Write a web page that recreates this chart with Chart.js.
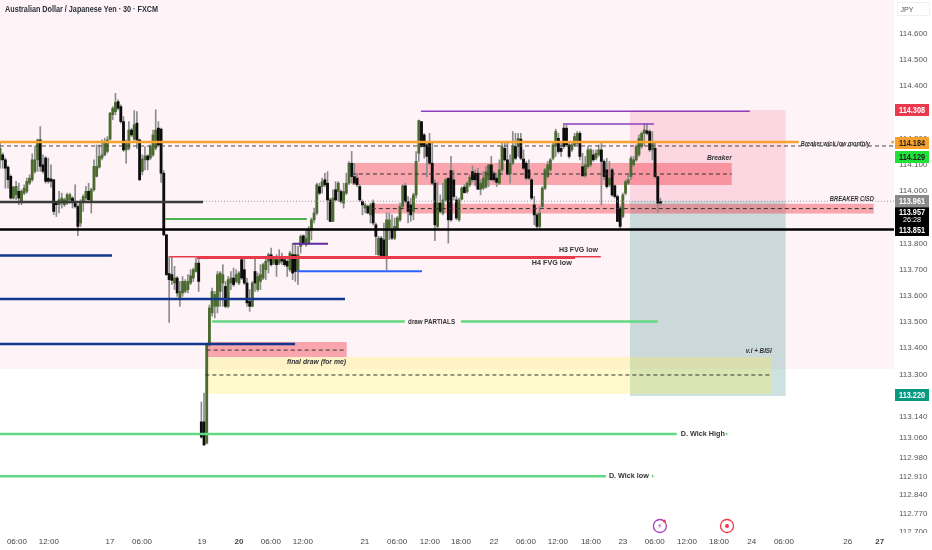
<!DOCTYPE html>
<html><head><meta charset="utf-8">
<style>html,body{margin:0;padding:0;background:#fff}canvas{display:block}</style>
<script src="https://cdn.jsdelivr.net/npm/chart.js@4"></script></head>
<body><canvas id="c" width="932" height="550"></canvas>
<script>
const highs=[114.178,114.141,114.122,114.092,114.058,114.014,114.033,114.026,114.001,114.020,
114.045,114.058,114.138,114.166,114.194,114.242,114.134,114.128,114.122,114.096,
114.039,113.956,113.995,113.988,113.969,113.988,113.988,113.975,114.020,113.944,
113.963,113.982,114.014,114.026,114.007,114.115,114.172,114.172,114.191,114.198,
114.204,114.296,114.318,114.369,114.344,114.325,114.280,114.191,114.261,114.236,
114.303,114.299,114.194,114.134,114.166,114.134,114.172,114.229,114.306,114.261,
114.236,114.074,113.829,113.747,113.747,113.709,113.670,113.651,113.670,113.658,
113.677,113.696,113.702,113.740,113.740,113.191,113.225,113.408,113.561,113.626,
113.613,113.689,113.689,113.715,113.651,113.670,113.689,113.702,113.696,113.689,
113.740,113.740,113.664,113.620,113.651,113.740,113.683,113.715,113.721,113.747,
113.759,113.778,113.747,113.753,113.772,113.759,113.740,113.734,113.766,113.797,
113.791,113.785,113.829,113.829,113.848,113.861,113.893,113.931,114.026,114.026,
114.045,114.064,114.070,113.969,114.001,114.032,114.032,114.001,114.026,114.064,
114.108,114.147,114.102,114.064,114.020,113.962,113.950,113.943,113.950,113.962,
113.874,113.823,113.823,113.874,113.912,113.912,113.905,113.893,113.899,113.950,
114.020,114.026,113.975,113.969,113.988,114.147,114.267,114.261,114.216,114.185,
114.216,114.178,114.039,114.029,113.981,114.026,114.045,114.045,114.128,114.074,
113.975,113.969,114.013,114.020,114.032,114.058,114.092,114.077,114.083,114.039,
114.070,114.089,114.096,114.128,114.070,114.064,114.115,114.178,114.178,114.178,
114.134,114.223,114.216,114.216,114.216,114.153,114.109,114.115,114.045,113.975,
113.912,113.937,114.013,114.083,114.109,114.121,114.178,114.232,114.216,114.178,
114.248,114.248,114.185,114.178,114.216,114.223,114.223,114.140,114.128,114.166,
114.159,114.153,114.153,114.172,114.178,114.115,114.121,114.109,114.083,114.020,
113.981,113.937,113.988,114.039,114.058,114.128,114.128,114.172,114.210,114.223,
114.254,114.254,114.229,114.223,114.178,114.051,113.969];
const lows=[114.083,114.083,114.007,114.007,113.965,113.965,113.963,113.944,113.944,113.982,
113.988,114.020,114.033,114.064,114.071,114.071,114.064,114.026,114.026,114.011,
113.906,113.899,113.912,113.931,113.937,113.944,113.950,113.931,113.931,113.826,
113.861,113.918,113.960,113.956,113.912,113.995,114.049,114.083,114.115,114.130,
114.141,114.191,114.268,114.287,114.306,114.255,114.147,114.102,114.153,114.204,
114.189,114.159,114.036,114.058,114.077,114.077,114.115,114.128,114.153,114.166,
114.029,113.825,113.673,113.495,113.639,113.620,113.594,113.556,113.594,113.607,
113.607,113.639,113.651,113.686,113.613,113.053,113.025,113.031,113.405,113.518,
113.512,113.531,113.556,113.556,113.550,113.550,113.620,113.632,113.645,113.639,
113.658,113.639,113.556,113.537,113.554,113.613,113.613,113.620,113.658,113.658,
113.683,113.709,113.715,113.670,113.715,113.715,113.709,113.670,113.689,113.658,
113.651,113.639,113.759,113.791,113.785,113.791,113.810,113.874,113.905,113.982,
113.988,114.013,113.886,113.879,113.879,113.960,113.956,113.950,113.931,113.982,
114.020,114.026,114.020,114.013,113.956,113.905,113.912,113.910,113.874,113.867,
113.753,113.747,113.744,113.740,113.696,113.810,113.810,113.810,113.848,113.880,
113.931,113.950,113.874,113.880,113.886,113.969,114.109,114.163,114.121,114.049,
114.096,114.020,113.807,113.854,113.912,113.905,113.956,113.797,113.880,113.962,
113.886,113.880,113.962,113.988,113.988,114.013,114.032,114.016,114.001,113.981,
114.001,114.007,114.013,114.037,114.032,114.013,114.020,114.070,114.109,114.058,
114.026,114.096,114.115,114.128,114.115,114.077,114.039,114.039,113.962,113.867,
113.854,113.854,113.931,114.001,114.045,114.070,114.115,114.128,114.140,114.128,
114.159,114.166,114.121,114.147,114.166,114.172,114.115,114.051,114.049,114.083,
114.089,114.109,114.115,114.128,113.943,114.039,114.007,114.013,113.975,113.969,
113.879,113.854,113.893,113.981,114.020,114.039,114.089,114.109,114.128,114.159,
114.172,114.210,114.147,114.115,114.045,113.914,113.943];
const opens=[114.115,114.134,114.115,114.087,114.052,113.969,113.982,113.995,113.956,113.988,
113.995,114.026,114.039,114.071,114.115,114.191,114.096,114.122,114.045,114.042,
114.039,113.950,113.944,113.950,113.944,113.950,113.963,113.969,113.956,113.937,
113.874,113.956,113.969,113.995,113.956,114.001,114.052,114.087,114.122,114.134,
114.147,114.194,114.287,114.299,114.337,114.318,114.261,114.153,114.159,114.229,
114.194,114.255,114.191,114.071,114.115,114.130,114.122,114.134,114.159,114.236,
114.232,114.064,113.829,113.681,113.677,113.645,113.664,113.581,113.607,113.613,
113.620,113.645,113.664,113.689,113.721,113.115,113.115,113.034,113.408,113.531,
113.556,113.556,113.613,113.645,113.632,113.556,113.645,113.664,113.651,113.645,
113.734,113.696,113.645,113.575,113.556,113.689,113.620,113.651,113.664,113.696,
113.728,113.753,113.721,113.734,113.721,113.747,113.734,113.728,113.696,113.753,
113.753,113.689,113.785,113.825,113.791,113.797,113.848,113.886,113.912,114.013,
114.013,114.039,114.026,113.962,113.880,114.001,113.994,113.994,113.950,113.988,
114.026,114.102,114.051,114.045,114.013,113.956,113.931,113.937,113.905,113.950,
113.867,113.753,113.816,113.810,113.740,113.854,113.848,113.816,113.854,113.886,
113.937,114.016,113.956,113.943,113.918,113.981,114.140,114.261,114.210,114.172,
114.178,114.102,114.026,113.861,113.950,113.912,113.962,114.045,114.074,114.039,
113.962,113.886,113.965,114.011,113.994,114.020,114.070,114.064,114.064,114.003,
114.007,114.011,114.039,114.096,114.064,114.045,114.026,114.077,114.159,114.115,
114.061,114.102,114.166,114.166,114.194,114.118,114.102,114.077,114.039,113.943,
113.905,113.861,113.937,114.007,114.051,114.077,114.121,114.172,114.197,114.159,
114.236,114.236,114.172,114.153,114.172,114.178,114.216,114.089,114.054,114.089,
114.096,114.134,114.121,114.134,114.153,114.109,114.077,114.020,114.077,114.016,
113.975,113.931,113.899,113.988,114.026,114.051,114.096,114.115,114.134,114.166,
114.216,114.226,114.223,114.153,114.159,114.051,113.956];
const closes=[114.159,114.115,114.083,114.039,113.969,114.011,114.014,113.969,113.995,114.007,
114.033,114.045,114.115,114.115,114.191,114.090,114.071,114.033,114.033,114.033,
113.918,113.944,113.963,113.969,113.963,113.982,113.982,113.956,113.937,113.861,
113.956,113.975,113.995,113.963,114.001,114.090,114.090,114.128,114.134,114.185,
114.191,114.293,114.312,114.334,114.312,114.261,114.153,114.185,114.229,114.210,
114.249,114.191,114.039,114.118,114.130,114.115,114.166,114.210,114.229,114.172,
114.064,113.829,113.677,113.658,113.655,113.664,113.607,113.613,113.651,113.651,
113.651,113.673,113.696,113.721,113.651,113.057,113.027,113.408,113.550,113.613,
113.601,113.677,113.683,113.677,113.556,113.658,113.664,113.639,113.677,113.683,
113.664,113.645,113.569,113.556,113.645,113.645,113.670,113.677,113.715,113.728,
113.753,113.715,113.740,113.715,113.747,113.728,113.715,113.709,113.759,113.683,
113.689,113.753,113.823,113.797,113.816,113.848,113.886,113.912,114.020,113.988,
114.032,114.020,113.962,113.880,113.969,113.962,114.026,113.956,113.994,114.026,
114.102,114.051,114.026,114.020,113.962,113.943,113.943,113.912,113.943,113.874,
113.823,113.816,113.747,113.747,113.886,113.886,113.816,113.861,113.893,113.937,
114.016,113.956,113.918,113.905,113.981,114.109,114.265,114.166,114.166,114.128,
114.102,114.026,113.867,113.950,113.918,113.962,114.039,113.886,113.886,113.975,
113.893,113.962,114.007,113.990,114.026,114.049,114.039,114.039,114.003,114.026,
114.045,114.070,114.096,114.039,114.039,114.029,114.077,114.166,114.115,114.061,
114.102,114.166,114.121,114.197,114.121,114.083,114.045,114.045,113.969,113.905,
113.861,113.912,114.007,114.077,114.096,114.115,114.172,114.223,114.147,114.147,
114.166,114.172,114.128,114.172,114.204,114.216,114.128,114.054,114.096,114.153,
114.153,114.115,114.140,114.153,114.109,114.051,114.013,114.045,113.981,113.975,
113.880,113.861,113.981,114.032,114.039,114.121,114.115,114.166,114.197,114.216,
114.229,114.216,114.153,114.178,114.051,113.950,113.950];

const timeTickIdx=[6.3,18.2,41,52.9,75.2,89,100.9,112.8,135.9,147.9,160.1,171.7,184,195.9,207.8,220.1,232,243.9,255.9,267.8,280,292,315.8,327.7];
const timeTickLabels=['06:00','12:00','17','06:00','19','20','06:00','12:00','21','06:00','12:00','18:00','22','06:00','12:00','18:00','23','06:00','12:00','18:00','24','06:00','26','27'];
const priceTicks=[114.6,114.5,114.4,114.3,114.2,114.1,114.0,113.9,113.8,113.7,113.6,113.5,113.4,113.3,113.14,113.06,112.98,112.91,112.84,112.77,112.70];

// horizontal levels: [x1,x2,price]
const orangeLevels=[[0,297.5,114.183],[332,333,114.183]];
const monthlyDash=[0,333,114.168];
const darkLevel=[0,75.6,113.954];
const dottedLevel=[75.6,333,113.957];
const blackLevel=[0,333,113.849];
const navyLevels=[[0,41.7,113.75],[0,128.5,113.584],[0,109.9,113.412]];
const midGreenLevel=[61.5,114.3,113.889];
const redThin=[63.3,223.8,113.745];
const redThick=[73.4,214.2,113.742];
const purpleShort=[109.1,122.2,113.795];
const blueLevel=[110.6,157.2,113.69];
const lightGreenLevels=[[79,150.8,113.498],[171.7,245,113.498],[0,252.1,113.069],[270.3,270.9,113.069],[0,225.7,112.908],[242.8,243.4,112.908]];
const violetLevels=[[156.8,279.3,114.3],[209.7,243.6,114.252]];
// zones: [x1,x2,top,bottom]
const sessionBand=[0,333,114.725,113.317];
const riskZone=[234.6,292.7,114.305,113.958];
const rewardZone=[234.6,292.7,113.958,113.214];
const breakerZone=[131.1,272.6,114.103,114.019];
const cisdZone=[138.5,325.5,113.947,113.910];
const finalZone=[77,129.2,113.42,113.363];
const yellowZone=[77,287.5,113.363,113.221];
const midDashes=[[131.1,272.6,114.061],[138.5,325.5,113.929],[77,129.2,113.389],[76.5,287.5,113.294]];
// labels
const noteTexts=['Breaker wick low monthly','Breaker','BREAKER CISD','H3 FVG low','H4 FVG low','draw PARTIALS','final draw (for me)','v.i + BISI','D. Wick High','D. Wick low'];
const noteX=[298.3,263.3,309.1,208.2,198.1,152,106.9,277.8,253.6,226.8];
const notePrice=[114.175,114.124,113.966,113.771,113.721,113.498,113.344,113.385,113.069,112.908];
const noteItalic=[1,1,1,0,0,0,1,1,0,0];
const noteWidth=[69,25,44,39,40,47,59,26,44,40];
const tagValues=[114.308,114.184,114.129,113.961,113.851,113.220];
const tagFill=['#e8394d','#f7a12e','#22e03a','#8a8a8a','#000000','#089981'];
const tagInk=['#fff','#222','#222','#fff','#fff','#fff'];

const SANS='"Liberation Sans",sans-serif';
const hLine=(l,color,w,order,dash)=>({type:'line',data:[{x:l[0],y:l[2]},{x:l[1],y:l[2]}],borderColor:color,borderWidth:w,borderDash:dash||[],pointRadius:0,order,fill:false,tension:0});
const zone=(z,color,order)=>({type:'line',data:[{x:z[0],y:z[2]},{x:z[1],y:z[2]}],borderWidth:0,borderColor:'transparent',pointRadius:0,backgroundColor:color,fill:{target:{value:z[3]}},order});

const datasets=[
 zone(sessionBand,'#fef4f8',100),
 zone(riskZone,'rgba(242,54,100,0.15)',91),
 zone(rewardZone,'rgba(0,110,100,0.2)',90),
 zone(breakerZone,'rgba(242,54,69,0.42)',80),
 zone(cisdZone,'rgba(242,54,69,0.42)',80),
 zone(finalZone,'rgba(242,54,69,0.42)',80),
 zone(yellowZone,'rgba(255,235,59,0.26)',81),
 {type:'bar',grouped:false,barThickness:1,backgroundColor:'#8c8c8c',data:highs.map((h,i)=>({x:i,y:[lows[i],h]})),order:50},
 {type:'bar',grouped:false,barThickness:2.2,backgroundColor:closes.map((c,i)=>c>=opens[i]?'#4c6b30':'#0d0d0d'),data:opens.map((o,i)=>({x:i,y:[o,closes[i]]})),order:40},
 ...midDashes.map(l=>hLine(l,'#333',1,30,[4,3])),
 hLine(monthlyDash,'#444',1,30,[4,3]),
 ...orangeLevels.map(l=>hLine(l,'#f7a12e',2.5,20)),
 hLine(darkLevel,'#3b3b3b',2.5,20),
 hLine(dottedLevel,'#9a9a9a',1,30,[1,2]),
 hLine(blackLevel,'#000',2.5,20),
 ...navyLevels.map(l=>hLine(l,'#12368c',2.5,20)),
 hLine(midGreenLevel,'#4caf50',2,20),
 hLine(redThin,'#e8394d',1.5,20),
 hLine(redThick,'#e8394d',3,19),
 hLine(purpleShort,'#5e2ca5',2,20),
 hLine(blueLevel,'#2962ff',2,20),
 ...lightGreenLevels.map(l=>hLine(l,'#62d883',2.5,20)),
 ...violetLevels.map(l=>hLine(l,'#8e3fc0',1.5,20))
];

// text squeezed to a measured width, as in the reference
function fitText(c,t,x,y,w,align){
 const m=c.measureText(t).width,s=Math.min(1,w/m);
 c.save();c.translate(x,y);c.scale(s,1);c.textAlign=align||'left';c.fillText(t,0,0);c.restore();
}

const overlay={id:'overlay',afterDraw(ch){
 const c=ch.ctx,X=ch.scales.x,Y=ch.scales.y;
 c.save();
 c.fillStyle='#fff';c.fillRect(895,533,37,17);
 c.textBaseline='middle';
 noteTexts.forEach((t,i)=>{
  c.font=(noteItalic[i]?'italic ':'')+'bold 8px '+SANS;
  c.fillStyle='#333';
  fitText(c,t,X.getPixelForValue(noteX[i]),Y.getPixelForValue(notePrice[i]),noteWidth[i]);
 });
 c.font='bold 9px '+SANS;c.fillStyle='#2a2e39';
 fitText(c,'Australian Dollar / Japanese Yen · 30 · FXCM',5,9.5,153);
 c.fillStyle='#fff';c.fillRect(897,2,33,14);c.strokeStyle='#f0f0f0';c.strokeRect(897.5,2.5,32,13);
 c.font='8px '+SANS;c.fillStyle='#555';fitText(c,'JPY',907,10,13,'center');
 c.font='bold 9px '+SANS;
 tagValues.forEach((v,i)=>{
  const y=Y.getPixelForValue(v)+1;
  c.fillStyle=tagFill[i];c.fillRect(895,Math.round(y-6),34,12);
  c.fillStyle=tagInk[i];fitText(c,v.toFixed(3),912,y+.5,26,'center');
 });
 const y0=Y.getPixelForValue(113.961)+7;
 c.fillStyle='#000';c.fillRect(895,y0,34,17);
 c.fillStyle='#fff';fitText(c,'113.957',912,y0+5,26,'center');
 c.font='8px '+SANS;fitText(c,'26:28',912,y0+13,18,'center');
 const ic1=X.getPixelForValue(245.8),ic2=X.getPixelForValue(270.8);
 c.lineWidth=1.3;c.strokeStyle='#a13fc0';c.beginPath();c.arc(ic1,526,6.5,0,7);c.stroke();
 c.fillStyle='#a13fc0';c.font='8px "DejaVu Sans"';c.textAlign='center';c.fillText('⚡',ic1,526.5);
 c.fillStyle='#f23645';c.beginPath();c.arc(ic1+4.5,521,1.5,0,7);c.fill();
 c.strokeStyle='#f23645';c.beginPath();c.arc(ic2,526,6.5,0,7);c.stroke();
 c.beginPath();c.arc(ic2,526,2,0,7);c.fill();
 c.restore();
}};

new Chart(document.getElementById('c'),{
 type:'bar',
 data:{datasets},
 plugins:[overlay],
 options:{
  responsive:false,animation:false,events:[],
  layout:{padding:0,autoPadding:false},
  plugins:{legend:{display:false},tooltip:{enabled:false},title:{display:false}},
  scales:{
   x:{type:'linear',min:0,max:333,offset:false,
    grid:{display:false,drawTicks:false},border:{display:false},
    afterBuildTicks(s){s.ticks=timeTickIdx.map(v=>({value:v}));},
    afterFit(s){s.height=17;s.paddingLeft=0;s.paddingRight=0;s.paddingTop=0;s.paddingBottom=0;},
    ticks:{autoSkip:false,maxRotation:0,padding:4,color:'#444',
      font:c=>({family:SANS,size:8,weight:(timeTickLabels[c.index]==='20'||timeTickLabels[c.index]==='27')?'bold':'normal'}),
      callback:(v,i)=>timeTickLabels[i]}},
   y:{type:'linear',position:'right',min:112.691,max:114.725,
    grid:{display:false,drawTicks:false},border:{display:false},
    afterBuildTicks(s){s.ticks=priceTicks.map(v=>({value:v}));},
    afterFit(s){s.width=38;s.paddingTop=0;s.paddingBottom=0;s.paddingLeft=0;s.paddingRight=0;},
    ticks:{autoSkip:false,padding:5,color:'#555',labelOffset:1,font:{family:SANS,size:8},callback:v=>v.toFixed(3)}}
  }
 }
});
</script></body></html>
